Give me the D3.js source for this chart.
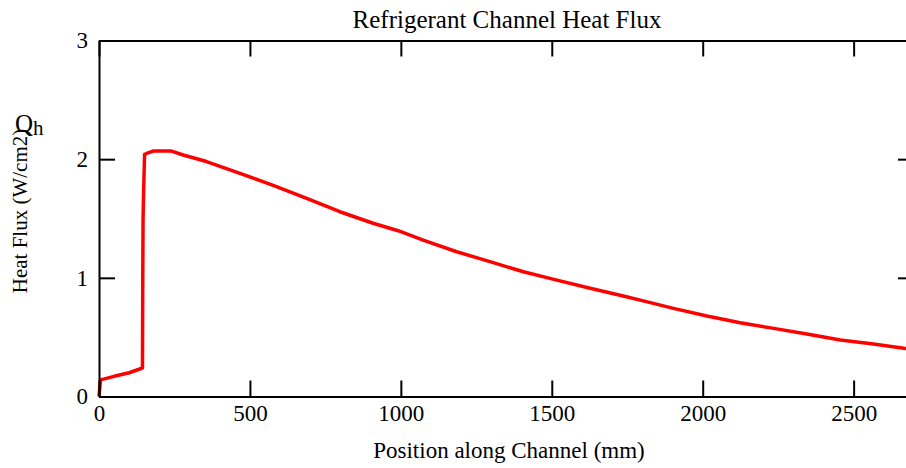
<!DOCTYPE html>
<html>
<head>
    <meta charset="utf-8">
    <title>Refrigerant Channel Heat Flux</title>
    <style>
        body { margin: 0; background: #fff; }
        svg text { font-family: "Liberation Serif", "Times New Roman", serif; fill: #000; }
        .tick text { font-size: 23px; }
    </style>
</head>
<body>
    <svg id="chart" width="906" height="468"></svg>
    <script src="https://d3js.org/d3.v7.min.js"></script>
    <script>
        // position along channel (mm) and heat flux (W/cm2)
        var position = [0, 5, 50, 100, 144, 145, 146, 148, 151, 160, 179, 240, 279, 356, 467, 577, 688, 798, 908, 991,
            1074, 1185, 1295, 1406, 1517, 1627, 1737, 1820, 1903, 2014, 2124, 2235, 2345, 2456, 2566, 2666, 2700];
        var heatFlux = [0, 0.14, 0.17, 0.2, 0.24, 1.0, 1.5, 1.75, 2.04, 2.05, 2.068, 2.068, 2.035, 1.98, 1.88, 1.78, 1.67, 1.557, 1.46, 1.397,
            1.318, 1.22, 1.136, 1.051, 0.981, 0.912, 0.847, 0.795, 0.743, 0.678, 0.622, 0.574, 0.527, 0.476, 0.442, 0.406, 0.396];
        var xTicks = [0, 500, 1000, 1500, 2000, 2500];
        var yTicks = [0, 1, 2, 3];

        var svg = d3.select("#chart");
        var plotLeft = 99, plotRight = 914, plotTop = 40.5, plotBottom = 396.5;

        var x = d3.scaleLinear().domain([0, 2700]).range([plotLeft, plotRight]);
        var y = d3.scaleLinear().domain([0, 3]).range([plotBottom, plotTop]);

        var data = position.map((p, i) => ({ x: p, y: heatFlux[i] }));

        // clip only on the right side, where the plot runs off the page
        svg.append("clipPath").attr("id", "clip")
            .append("rect")
            .attr("x", plotLeft - 10).attr("y", plotTop)
            .attr("width", plotRight - plotLeft + 10).attr("height", plotBottom - plotTop + 10);

        // the curve
        svg.append("path")
            .datum(data)
            .attr("clip-path", "url(#clip)")
            .attr("fill", "none")
            .attr("stroke", "#ff0000")
            .attr("stroke-width", 3.5)
            .attr("stroke-linejoin", "round")
            .attr("d", d3.line().x(d => x(d.x)).y(d => y(d.y)));

        // axes: ticks point inward, on all four sides
        var tickLen = 16;
        svg.append("g").attr("transform", "translate(0," + plotBottom + ")")
            .call(d3.axisBottom(x).tickValues(xTicks).tickSizeInner(-tickLen).tickSizeOuter(0).tickPadding(8).tickFormat(d3.format("d")));
        svg.append("g").attr("transform", "translate(0," + plotTop + ")")
            .call(d3.axisTop(x).tickValues(xTicks).tickSizeInner(-tickLen).tickSizeOuter(0).tickFormat(""));
        svg.append("g").attr("transform", "translate(" + plotLeft + ",0)")
            .call(d3.axisLeft(y).tickValues(yTicks).tickSizeInner(-tickLen).tickSizeOuter(0).tickPadding(11).tickFormat(d3.format("d")));
        svg.append("g").attr("transform", "translate(" + plotRight + ",0)")
            .call(d3.axisRight(y).tickValues(yTicks).tickSizeInner(-tickLen).tickSizeOuter(0).tickFormat(""));

        svg.selectAll(".domain").attr("stroke", "#000").attr("stroke-width", 2);
        svg.selectAll(".tick line").attr("stroke", "#000").attr("stroke-width", 2);
        svg.selectAll(".tick text").attr("fill", "#000");

        // titles
        svg.append("text")
            .attr("x", 507).attr("y", 28)
            .attr("text-anchor", "middle")
            .style("font-size", "25px")
            .text("Refrigerant Channel Heat Flux");

        svg.append("text")
            .attr("x", 509).attr("y", 458)
            .attr("text-anchor", "middle")
            .style("font-size", "23px")
            .text("Position along Channel (mm)");

        svg.append("text")
            .attr("transform", "translate(27,211) rotate(-90)")
            .attr("text-anchor", "middle")
            .style("font-size", "21px")
            .text("Heat Flux (W/cm2)");

        var q = svg.append("text").attr("x", 15).attr("y", 132).style("font-size", "25px");
        q.append("tspan").text("Q");
        q.append("tspan").attr("dy", 3).style("font-size", "21px").text("h");
    </script>
</body>
</html>
